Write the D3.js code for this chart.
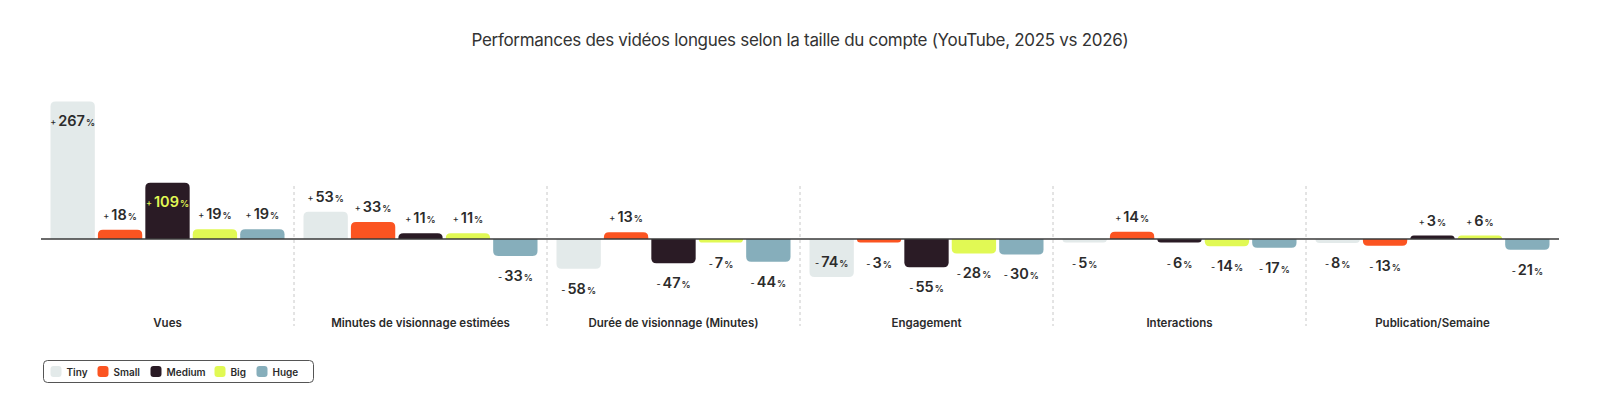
<!DOCTYPE html>
<html>
<head>
<meta charset="utf-8">
<script src="https://cdn.jsdelivr.net/npm/d3@7"></script>
<style>
  body { margin: 0; background: #fff; }
  svg { display: block; font-family: Inter, "Noto Sans", sans-serif; }
</style>
</head>
<body>
<div id="chart"></div>
<script>
const groups = ["Vues", "Minutes de visionnage estimées", "Durée de visionnage (Minutes)", "Engagement", "Interactions", "Publication/Semaine"];
const seriesNames = ["Tiny", "Small", "Medium", "Big", "Huge"];
const tiny = [267, 53, -58, -74, -5, -8];
const small = [18, 33, 13, -3, 14, -13];
const medium = [109, 11, -47, -55, -6, 3];
const big = [19, 11, -7, -28, -14, 6];
const huge = [19, -33, -44, -30, -17, -21];
const colors = ["#e3eaea", "#fb5421", "#2a1b25", "#e1f954", "#86aebb"];

const width = 1600, height = 408;
const values = [tiny, small, medium, big, huge];

const data = groups.map((g, gi) => ({
    group: g,
    bars: seriesNames.map((s, si) => ({ group: g, series: s, value: values[si][gi] }))
}));

const svg = d3.select("#chart").append("svg")
    .attr("width", width)
    .attr("height", height);

svg.append("text")
    .attr("x", 800)
    .attr("y", 46)
    .attr("text-anchor", "middle")
    .style("font-size", "17px")
    .style("letter-spacing", "-0.3px")
    .attr("fill", "#333")
    .text("Performances des vidéos longues selon la taille du compte (YouTube, 2025 vs 2026)");

const x0 = d3.scaleBand()
    .domain(groups)
    .range([41, 1559]);

const x1 = d3.scaleBand()
    .domain(seriesNames)
    .range([0, x0.bandwidth()])
    .paddingInner(0.065)
    .paddingOuter(0.2);

const y = d3.scaleLinear()
    .domain([-100, 267])
    .range([290.5, 101.5]);

const color = d3.scaleOrdinal().domain(seriesNames).range(colors);

// dashed separators
svg.selectAll(".sep")
    .data(groups.slice(1))
    .join("line")
        .attr("class", "sep")
        .attr("x1", d => x0(d))
        .attr("x2", d => x0(d))
        .attr("y1", 186)
        .attr("y2", 326)
        .attr("stroke", "#c8c8c8")
        .attr("stroke-width", 1)
        .attr("stroke-dasharray", "3,3");

// bar end, with a small minimum so tiny values stay visible
function barEnd(v) {
    const h = Math.max(3.5, Math.abs(y(v) - y(0)));
    return v >= 0 ? y(0) - h : y(0) + h;
}

// bar path with rounded outer corners
function barPath(x, w, y0, y1) {
    const h = Math.abs(y1 - y0);
    const r = Math.min(5, h, w / 2);
    if (y1 < y0) {
        return `M${x},${y0}V${y1 + r}Q${x},${y1} ${x + r},${y1}H${x + w - r}Q${x + w},${y1} ${x + w},${y1 + r}V${y0}Z`;
    }
    return `M${x},${y0}V${y1 - r}Q${x},${y1} ${x + r},${y1}H${x + w - r}Q${x + w},${y1} ${x + w},${y1 - r}V${y0}Z`;
}

const gGroups = svg.selectAll(".group")
    .data(data)
    .join("g")
        .attr("class", "group")
        .attr("transform", d => "translate(" + x0(d.group) + ",0)");

gGroups.selectAll(".bar")
    .data(d => d.bars)
    .join("path")
        .attr("class", "bar")
        .attr("d", d => barPath(x1(d.series), x1.bandwidth(), y(0), barEnd(d.value)))
        .attr("fill", d => color(d.series));

const labels = gGroups.selectAll(".value")
    .data(d => d.bars)
    .join("text")
        .attr("class", "value")
        .attr("x", d => x1(d.series) + x1.bandwidth() / 2)
        .attr("y", d => {
            const inside = Math.abs(d.value) > 60;
            const end = barEnd(d.value);
            let c;
            if (d.value >= 0) c = inside ? end + 19 : end - 15;
            else c = inside ? end - 15 : end + 20;
            return c + 5;
        })
        .attr("text-anchor", "middle")
        .attr("fill", d => (d.series === "Medium" && Math.abs(d.value) > 60) ? "#e1f954" : "#2b2b2b");

labels.append("tspan")
    .style("font-size", "9px")
    .style("font-weight", 500)
    .attr("dy", "-1")
    .text(d => d.value >= 0 ? "+" : "-");
labels.append("tspan")
    .style("font-size", "14.5px")
    .style("font-weight", 600)
    .attr("dx", "2")
    .attr("dy", "1")
    .text(d => Math.abs(d.value));
labels.append("tspan")
    .style("font-size", "9px")
    .style("font-weight", 600)
    .attr("dx", "1")
    .text("%");

// baseline
svg.append("line")
    .attr("x1", 41)
    .attr("x2", 1559)
    .attr("y1", y(0))
    .attr("y2", y(0))
    .attr("stroke", "#3a3a3a")
    .attr("stroke-width", 1.5);

// group labels
svg.selectAll(".group-label")
    .data(groups)
    .join("text")
        .attr("class", "group-label")
        .attr("x", d => x0(d) + x0.bandwidth() / 2)
        .attr("y", 327)
        .attr("text-anchor", "middle")
        .style("font-size", "11.5px")
        .style("font-weight", 600)
        .attr("fill", "#2b2b2b")
        .text(d => d);

// legend
const legend = svg.append("g").attr("transform", "translate(43.5,360.5)");
legend.append("rect")
    .attr("width", 270)
    .attr("height", 22)
    .attr("rx", 4)
    .attr("fill", "#fff")
    .attr("stroke", "#555")
    .attr("stroke-width", 1);

const legendX = [7, 54, 107, 171, 213];
const items = legend.selectAll(".item")
    .data(seriesNames)
    .join("g")
        .attr("class", "item")
        .attr("transform", (d, i) => "translate(" + legendX[i] + ",0)");
items.append("rect")
    .attr("y", 5.5)
    .attr("width", 11)
    .attr("height", 11)
    .attr("rx", 3)
    .attr("fill", d => color(d));
items.append("text")
    .attr("x", 16)
    .attr("y", 15)
    .style("font-size", "10px")
    .style("font-weight", 600)
    .attr("fill", "#2b2b2b")
    .text(d => d);
</script>
</body>
</html>
